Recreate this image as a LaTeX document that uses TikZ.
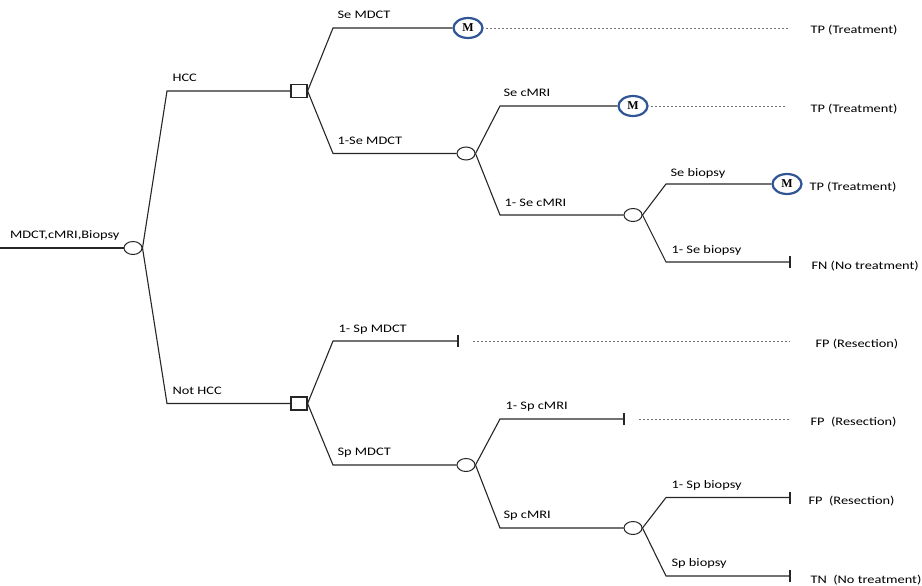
\documentclass[tikz,border=0pt]{standalone}
\usepackage{fontspec}
\setmainfont[FakeStretch=1.25]{Carlito}
\newfontfamily\mfont{Liberation Serif}
\usetikzlibrary{shapes.geometric}
\definecolor{mblue}{HTML}{2F5597}
\begin{document}
\begin{tikzpicture}[x=1pt,y=-1pt,line width=1.1pt,
  chance/.style={ellipse,draw=black!85,fill=white,minimum width=18pt,minimum height=13pt,inner sep=0,line width=1pt},
  dec/.style={rectangle,draw=black!85,fill=white,minimum width=16pt,minimum height=13pt,inner sep=0,line width=1.2pt},
  mnode/.style={ellipse,draw=mblue,line width=2.2pt,fill=white,minimum width=29pt,minimum height=20pt,inner sep=0,font=\mfont\bfseries\fontsize{12}{12}\selectfont},
  lab/.style={anchor=base west,inner sep=0,font=\fontsize{11.5}{13}\selectfont},
  outl/.style={anchor=base west,inner sep=0,font=\fontsize{11.5}{13}\selectfont},
  branch/.style={draw=black!85,line width=1.1pt},
  dots/.style={draw=black!55,dash pattern=on 2pt off 2pt,line width=0.9pt},
  barstyle/.style={draw=black!85,line width=1.1pt}]
\useasboundingbox (0,0) rectangle (922,586);

% coordinates
\coordinate (start) at (-5,248);
\coordinate (k1) at (167,91);
\coordinate (k2) at (167,403.5);
\coordinate (k11) at (333,28);
\coordinate (k12) at (333,153.5);
\coordinate (k121) at (500,106);
\coordinate (k122) at (500,215);
\coordinate (k1221) at (666,184);
\coordinate (k1222) at (666,262);
\coordinate (k21) at (333,341);
\coordinate (k22) at (333,465);
\coordinate (k221) at (500,419);
\coordinate (k222) at (500,528);
\coordinate (k2221) at (666,497.5);
\coordinate (k2222) at (666,576);
\coordinate (b1) at (790,262);
\coordinate (b2) at (458,341);
\coordinate (b3) at (624,419);
\coordinate (b4) at (790,497.5);
\coordinate (b5) at (790,576);
\coordinate (d1a) at (486,28);
\coordinate (d1b) at (789,28);
\coordinate (d2a) at (651,106);
\coordinate (d2b) at (786,106);
\coordinate (d3a) at (473,341);
\coordinate (d3b) at (790,341);
\coordinate (d4a) at (639,419);
\coordinate (d4b) at (790,419);

% nodes
\node[chance] (c0) at (133,248) {};
\node[dec] (sq1) at (299,91) {};
\node[dec] (sq2) at (299,403.5) {};
\node[chance] (c1) at (466,153.5) {};
\node[chance] (c2) at (633,215) {};
\node[chance] (c3) at (466,465) {};
\node[chance] (c4) at (633,528) {};
\node[mnode] (m1) at (468,28) {M};
\node[mnode] (m2) at (633,106) {M};
\node[mnode] (m3) at (787,184) {M};

% connectors
\draw[branch] (start) -- (c0);
\draw[branch] (c0.east) -- (k1) -- (sq1);
\draw[branch] (c0.east) -- (k2) -- (sq2);
\draw[branch] (sq1.east) -- (k11) -- (m1);
\draw[branch] (sq1.east) -- (k12) -- (c1);
\draw[branch] (c1.east) -- (k121) -- (m2);
\draw[branch] (c1.east) -- (k122) -- (c2);
\draw[branch] (c2.east) -- (k1221) -- (m3);
\draw[branch] (c2.east) -- (k1222) -- (b1);
\draw[branch] (sq2.east) -- (k21) -- (b2);
\draw[branch] (sq2.east) -- (k22) -- (c3);
\draw[branch] (c3.east) -- (k221) -- (b3);
\draw[branch] (c3.east) -- (k222) -- (c4);
\draw[branch] (c4.east) -- (k2221) -- (b4);
\draw[branch] (c4.east) -- (k2222) -- (b5);

% terminal bars
\foreach \b in {b1,b2,b3,b4,b5}
  \draw[barstyle] ([yshift=-6pt]\b) -- ([yshift=6pt]\b);

% dotted leaders
\draw[dots] (d1a) -- (d1b);
\draw[dots] (d2a) -- (d2b);
\draw[dots] (d3a) -- (d3b);
\draw[dots] (d4a) -- (d4b);

% branch labels
\node[lab,anchor=base east] (lroot) at (120,238) {MDCT,cMRI,Biopsy};
\node[lab] (lhcc) at (172,82) {HCC};
\node[lab] (lnhcc) at (172,394) {Not HCC};
\node[lab] (l11) at (337,19) {Se MDCT};
\node[lab] (l12) at (337,144) {1-Se MDCT};
\node[lab] (l121) at (503,97) {Se cMRI};
\node[lab] (l122) at (504,206) {1- Se cMRI};
\node[lab] (l1221) at (670,176) {Se biopsy};
\node[lab] (l1222) at (671,253) {1- Se biopsy};
\node[lab] (l21) at (338,332) {1- Sp MDCT};
\node[lab] (l22) at (337,455) {Sp MDCT};
\node[lab] (l221) at (505,409) {1- Sp cMRI};
\node[lab] (l222) at (503,518) {Sp cMRI};
\node[lab] (l2221) at (671,488) {1- Sp biopsy};
\node[lab] (l2222) at (671,566) {Sp biopsy};

% outcome labels
\node[outl] (o1) at (810,34) {TP (Treatment)};
\node[outl] (o2) at (810,113) {TP (Treatment)};
\node[outl] (o3) at (809,190) {TP (Treatment)};
\node[outl] (o4) at (811,269) {FN (No treatment)};
\node[outl] (o5) at (815,347) {FP (Resection)};
\node[outl] (o6) at (810,425) {FP\ \ (Resection)};
\node[outl] (o7) at (808,504) {FP\ \ (Resection)};
\node[outl] (o8) at (810,583) {TN\ \ (No treatment)};
\end{tikzpicture}
\end{document}
